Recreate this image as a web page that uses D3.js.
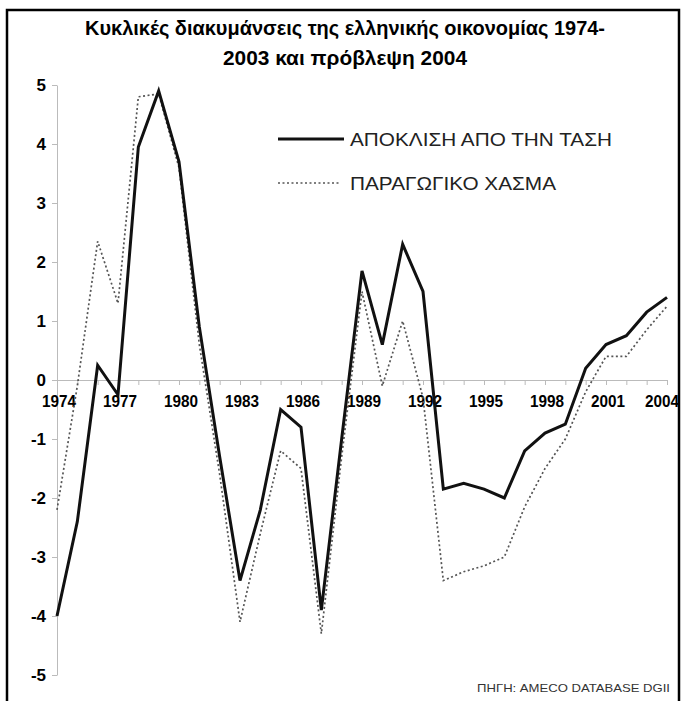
<!DOCTYPE html>
<html>
<head>
<meta charset="utf-8">
<script src="https://cdn.jsdelivr.net/npm/d3@7"></script>
<style>
  body { margin: 0; background: #fff; }
  text { font-family: "Liberation Sans", Arial, sans-serif; }
</style>
</head>
<body>
<div id="chart"></div>
<script>
// years 1974-2004
var years = d3.range(1974, 2005);
var tickYears = [1974, 1977, 1980, 1983, 1986, 1989, 1992, 1995, 1998, 2001, 2004];
var yTicks = [5, 4, 3, 2, 1, 0, -1, -2, -3, -4, -5];

// ΑΠΟΚΛΙΣΗ ΑΠΟ ΤΗΝ ΤΑΣΗ
var trendDev = [-4.0, -2.4, 0.25, -0.25, 3.95, 4.9, 3.7, 0.9, -1.3, -3.4,
  -2.2, -0.5, -0.8, -3.9, -1.0, 1.85, 0.6, 2.3, 1.5, -1.85,
  -1.75, -1.85, -2.0, -1.2, -0.9, -0.75, 0.2, 0.6, 0.75, 1.15, 1.4];
// ΠΑΡΑΓΩΓΙΚΟ ΧΑΣΜΑ
var outputGap = [-2.2, -0.1, 2.35, 1.3, 4.8, 4.85, 3.6, 0.6, -1.6, -4.1,
  -2.6, -1.2, -1.5, -4.3, -1.3, 1.5, -0.1, 1.0, -0.3, -3.4,
  -3.25, -3.15, -3.0, -2.15, -1.5, -1.0, -0.2, 0.4, 0.4, 0.85, 1.25];

var titleLines = ["Κυκλικές διακυμάνσεις της ελληνικής οικονομίας 1974-", "2003 και πρόβλεψη 2004"];
var seriesNames = ["ΑΠΟΚΛΙΣΗ ΑΠΟ ΤΗΝ ΤΑΣΗ", "ΠΑΡΑΓΩΓΙΚΟ ΧΑΣΜΑ"];
var sourceText = "ΠΗΓΗ: AMECO DATABASE DGII";

var svg = d3.select("#chart").append("svg").attr("width", 683).attr("height", 701);

// frame
svg.append("rect").attr("x", 7).attr("y", 10).attr("width", 672).attr("height", 700)
  .style("fill", "#fff").style("stroke", "#000").style("stroke-width", 2.5);

var x = d3.scaleLinear().domain([1974, 2004]).range([57, 667]);
var y = d3.scaleLinear().domain([-5, 5]).range([675, 85]);

// title
svg.append("g").selectAll("text").data(titleLines).enter().append("text")
  .attr("x", 345).attr("y", function(d, i) { return 35 + i * 30; })
  .attr("text-anchor", "middle")
  .attr("textLength", function(d, i) { return i === 0 ? 520 : 244; })
  .attr("lengthAdjust", "spacingAndGlyphs")
  .style("font-size", "20px").style("font-weight", "bold")
  .text(function(d) { return d; });

// y axis
var yAxis = svg.append("g").attr("transform", "translate(57,0)")
  .call(d3.axisLeft(y).tickValues(yTicks).tickSize(5).tickSizeOuter(0)
    .tickFormat(function(d) { return String(d); }));
yAxis.select(".domain").style("stroke", "#bbb");
yAxis.selectAll(".tick line").style("stroke", "#bbb");
yAxis.selectAll(".tick text").attr("x", -11)
  .style("font-size", "17px").style("font-weight", "bold").style("fill", "#000")
  .style("font-family", "'Liberation Sans', Arial, sans-serif");

// x axis on zero line
var xAxis = svg.append("g").attr("transform", "translate(0," + y(0) + ")")
  .call(d3.axisBottom(x).tickValues(years).tickSize(5).tickSizeOuter(0).tickFormat(""));
xAxis.select(".domain").style("stroke", "#bbb");
xAxis.selectAll(".tick line").style("stroke", "#bbb");

svg.append("g").selectAll("text").data(tickYears).enter().append("text")
  .attr("x", function(d) { return Math.min(x(d) + 2, 662); })
  .attr("y", y(0) + 27)
  .attr("text-anchor", "middle")
  .attr("textLength", 34).attr("lengthAdjust", "spacingAndGlyphs")
  .style("font-size", "16px").style("font-weight", "bold")
  .text(function(d) { return d; });

var line = d3.line()
  .x(function(d, i) { return x(years[i]); })
  .y(function(d) { return y(d); });

svg.append("path").datum(outputGap).attr("d", line)
  .style("fill", "none").style("stroke", "#555").style("stroke-width", 1.7)
  .style("stroke-dasharray", "2,2.5");

svg.append("path").datum(trendDev).attr("d", line)
  .style("fill", "none").style("stroke", "#111").style("stroke-width", 3)
  .style("stroke-linejoin", "miter");

// legend
var legend = svg.append("g");
legend.append("line").attr("x1", 278).attr("x2", 344).attr("y1", 139).attr("y2", 139)
  .style("stroke", "#111").style("stroke-width", 3);
legend.append("line").attr("x1", 278).attr("x2", 340).attr("y1", 183).attr("y2", 183)
  .style("stroke", "#555").style("stroke-width", 1.7).style("stroke-dasharray", "2,2.5");
legend.selectAll("text").data(seriesNames).enter().append("text")
  .attr("x", 350).attr("y", function(d, i) { return 146 + i * 44; })
  .attr("textLength", function(d, i) { return i === 0 ? 262 : 206; })
  .attr("lengthAdjust", "spacingAndGlyphs")
  .style("font-size", "18px").style("fill", "#222")
  .text(function(d) { return d; });

// source
svg.append("text").attr("x", 477).attr("y", 692)
  .attr("textLength", 193).attr("lengthAdjust", "spacingAndGlyphs")
  .style("font-size", "11px").style("fill", "#333")
  .text(sourceText);
</script>
</body>
</html>
